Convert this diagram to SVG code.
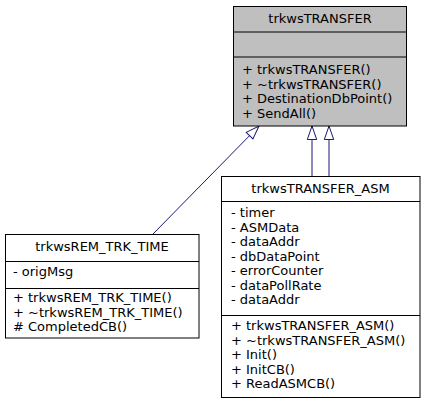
<svg xmlns="http://www.w3.org/2000/svg" width="424" height="403" viewBox="0 0 424 403">
<style>
.box{stroke:#000;stroke-width:1;fill:#fff}
.gray{fill:#bfbfbf}
.sep{stroke:#000;stroke-width:1}
text{font-family:"DejaVu Sans","Liberation Sans",sans-serif;font-size:13px;fill:#000}
.c{text-anchor:middle}
.edge{stroke:#191970;stroke-width:1;fill:none;marker-end:url(#tri)}
</style>
<defs>
<marker id="tri" markerUnits="userSpaceOnUse" markerWidth="16" markerHeight="12" refX="13.5" refY="4.7" orient="auto" overflow="visible">
<path d="M0,0 L13.5,4.7 L0,9.4 Z" fill="#fff" stroke="#191970" stroke-width="1"/>
</marker>
</defs>
<g id="connectors">
<path class="edge" d="M153,234 L259,126"/>
<path class="edge" d="M312,176 L312,126"/>
<path class="edge" d="M329,176 L329,126"/>
</g>
<g id="trkwsTRANSFER">
<rect class="box gray" x="233.5" y="6.5" width="173" height="119.5"/>
<line class="sep" x1="233.5" y1="32" x2="406.5" y2="32"/>
<line class="sep" x1="233.5" y1="57" x2="406.5" y2="57"/>
<text class="c" x="320" y="23">trkwsTRANSFER</text>
<text x="242" y="74">+ trkwsTRANSFER()</text>
<text x="242" y="88.5">+ ~trkwsTRANSFER()</text>
<text x="242" y="103">+ DestinationDbPoint()</text>
<text x="242" y="117.5">+ SendAll()</text>
</g>
<g id="trkwsREM_TRK_TIME">
<rect class="box" x="5.5" y="234.5" width="193.5" height="103.5"/>
<line class="sep" x1="5.5" y1="261.5" x2="199" y2="261.5"/>
<line class="sep" x1="5.5" y1="288.5" x2="199" y2="288.5"/>
<text class="c" x="102" y="251">trkwsREM_TRK_TIME</text>
<text x="13" y="276">- origMsg</text>
<text x="13" y="302">+ trkwsREM_TRK_TIME()</text>
<text x="13" y="316.5">+ ~trkwsREM_TRK_TIME()</text>
<text x="13" y="331"># CompletedCB()</text>
</g>
<g id="trkwsTRANSFER_ASM">
<rect class="box" x="221.5" y="176.5" width="198.5" height="221"/>
<line class="sep" x1="221.5" y1="201.5" x2="420" y2="201.5"/>
<line class="sep" x1="221.5" y1="315.5" x2="420" y2="315.5"/>
<text class="c" x="320.5" y="193">trkwsTRANSFER_ASM</text>
<text x="231" y="217">- timer</text>
<text x="231" y="231.5">- ASMData</text>
<text x="231" y="246">- dataAddr</text>
<text x="231" y="260.5">- dbDataPoint</text>
<text x="231" y="275">- errorCounter</text>
<text x="231" y="289.5">- dataPollRate</text>
<text x="231" y="304">- dataAddr</text>
<text x="231" y="330">+ trkwsTRANSFER_ASM()</text>
<text x="231" y="344.5">+ ~trkwsTRANSFER_ASM()</text>
<text x="231" y="359">+ Init()</text>
<text x="231" y="373.5">+ InitCB()</text>
<text x="231" y="388">+ ReadASMCB()</text>
</g>
</svg>
